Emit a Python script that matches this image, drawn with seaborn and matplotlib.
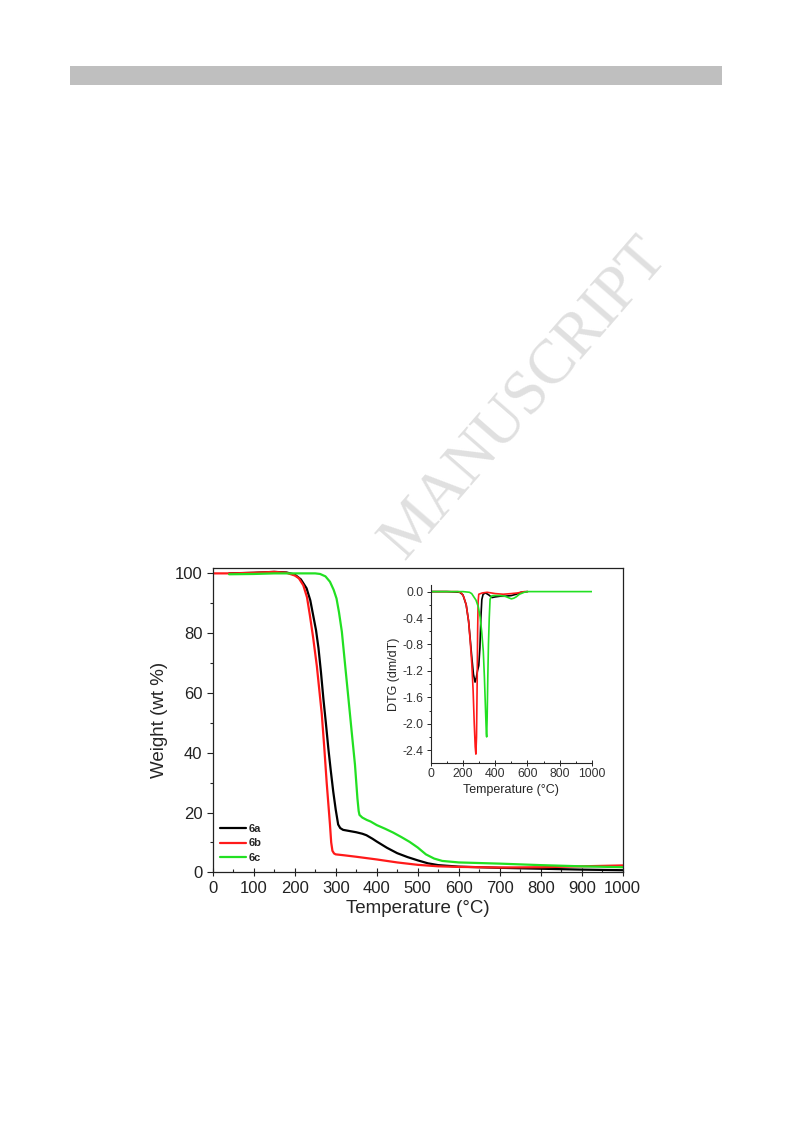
import pandas as pd
import matplotlib.pyplot as plt
import seaborn as sns
from matplotlib.patches import Rectangle
from matplotlib.ticker import MultipleLocator

# TGA curves (weight %)
temp_6a = [40, 100, 150, 180, 200, 215, 229, 238, 245, 252, 258, 264, 270, 276, 282, 288, 294, 300, 306, 311,
           318, 330, 350, 365, 375, 390, 400, 425, 450, 475, 500, 525, 550, 600, 700, 800, 900, 1000]
weight_6a = [100.0, 100.2, 100.5, 100.3, 99.6, 98.0, 95, 91, 86, 81, 75, 67, 58, 50, 41.5, 34, 27, 21, 16, 14.8,
             14.2, 13.9, 13.4, 12.9, 12.4, 11.2, 10.3, 8.2, 6.4, 5.1, 4.0, 3.0, 2.4, 1.9, 1.5, 1.2, 0.9, 0.7]

temp_6b = [0, 50, 100, 150, 180, 200, 210, 221, 230, 237, 245, 254, 260, 266, 272, 278, 282, 286, 289, 292,
           296, 300, 320, 350, 400, 450, 500, 550, 600, 700, 800, 900, 1000]
weight_6b = [100, 100, 100.2, 100.5, 100.2, 99.3, 98.4, 96, 92, 86, 78.5, 69, 61, 53, 42, 30, 23, 16, 10, 7.2,
             6.3, 6.0, 5.7, 5.2, 4.3, 3.3, 2.5, 2.0, 1.8, 1.6, 1.7, 2.0, 2.3]

temp_6c = [40, 100, 150, 200, 250, 262, 275, 286, 295, 302, 308, 315, 323, 331, 339, 347, 353, 356, 358, 365,
           376, 385, 400, 420, 440, 460, 480, 500, 520, 540, 560, 600, 700, 800, 900, 1000]
weight_6c = [99.7, 99.8, 100.0, 100.0, 100.0, 99.8, 99.0, 97.2, 94.5, 91.6, 87, 80.5, 69.3, 58.2, 47, 36, 24.7,
             20.5, 19.2, 18.3, 17.5, 17.0, 15.8, 14.6, 13.3, 11.8, 10.2, 8.3, 6.0, 4.6, 3.8, 3.3, 2.9, 2.4, 2.0, 1.7]

# DTG curves (inset)
dtg_temp_6a = [0, 100, 180, 200, 220, 235, 245, 255, 265, 275, 283, 290, 298, 305, 311, 317, 325, 340, 360,
               380, 400, 430, 460, 500, 530, 560, 600]
dtg_6a = [0, 0, -0.01, -0.05, -0.2, -0.45, -0.72, -1.0, -1.25, -1.37, -1.3, -1.2, -1.12, -0.85, -0.4, -0.12,
          -0.04, -0.02, -0.05, -0.09, -0.08, -0.07, -0.07, -0.06, -0.04, -0.01, 0]

dtg_temp_6b = [0, 100, 170, 190, 205, 220, 235, 245, 255, 263, 270, 276, 280, 284, 288, 291, 294, 298, 320,
               350, 400, 450, 500, 540, 580, 600]
dtg_6b = [0, 0, 0, -0.02, -0.08, -0.2, -0.45, -0.75, -1.1, -1.5, -2.0, -2.35, -2.46, -2.2, -1.4, -0.6, -0.15,
          -0.04, -0.02, -0.01, -0.03, -0.04, -0.03, -0.02, 0, 0]

dtg_temp_6c = [0, 100, 200, 240, 254, 281, 295, 306, 316, 326, 333, 340, 345, 347, 350, 354, 358, 363, 368,
               375, 385, 400, 430, 460, 480, 500, 515, 530, 550, 580, 600, 700, 800, 900, 1000]
dtg_6c = [0, 0, 0, -0.01, -0.03, -0.13, -0.23, -0.38, -0.6, -0.9, -1.3, -1.8, -2.15, -2.2, -1.9, -1.3, -0.8,
          -0.4, -0.12, -0.07, -0.06, -0.06, -0.06, -0.07, -0.09, -0.11, -0.1, -0.08, -0.04, -0.01, 0, 0, 0, 0, 0]

samples = ['6a', '6b', '6c']
colors = {'6a': '#000000', '6b': '#ff1a1a', '6c': '#22e022'}

tga = pd.concat([
    pd.DataFrame({'Temperature': temp_6a, 'Weight': weight_6a, 'Sample': '6a'}),
    pd.DataFrame({'Temperature': temp_6b, 'Weight': weight_6b, 'Sample': '6b'}),
    pd.DataFrame({'Temperature': temp_6c, 'Weight': weight_6c, 'Sample': '6c'}),
], ignore_index=True)

dtg = pd.concat([
    pd.DataFrame({'Temperature': dtg_temp_6a, 'DTG': dtg_6a, 'Sample': '6a'}),
    pd.DataFrame({'Temperature': dtg_temp_6b, 'DTG': dtg_6b, 'Sample': '6b'}),
    pd.DataFrame({'Temperature': dtg_temp_6c, 'DTG': dtg_6c, 'Sample': '6c'}),
], ignore_index=True)

sns.set_style('ticks')
plt.rcParams['font.family'] = ['Liberation Sans', 'DejaVu Sans']
plt.rcParams['axes.unicode_minus'] = False

fig = plt.figure(figsize=(7.93, 11.23), dpi=100)

# grey header bar of the page
fig.patches.append(Rectangle((70 / 793, 1 - 85 / 1123), 652 / 793, 19 / 1123,
                             transform=fig.transFigure, facecolor='#bfbfbf', edgecolor='none', zorder=0))

# watermark, partly hidden by the figure image
fig.text(0.662, 0.645, 'MANUSCRIPT', rotation=49, fontsize=45, color='#e0e0e0',
         family='Liberation Serif', ha='center', va='center', zorder=1)
fig.patches.append(Rectangle((150 / 793, 1 - 940 / 1123), 490 / 793, 377 / 1123,
                             transform=fig.transFigure, facecolor='white', edgecolor='none', zorder=2))

# main TGA plot
ax = fig.add_axes([212.7 / 793, 1 - 872.3 / 1123, 410 / 793, 304.6 / 1123])
ax.set_zorder(3)
sns.lineplot(data=tga, x='Temperature', y='Weight', hue='Sample', hue_order=samples,
             palette=colors, linewidth=1.6, sort=False, estimator=None, ax=ax)
ax.set_xlim(0, 1000)
ax.set_ylim(0, 101.9)
ax.xaxis.set_major_locator(MultipleLocator(100))
ax.xaxis.set_minor_locator(MultipleLocator(50))
ax.yaxis.set_major_locator(MultipleLocator(20))
ax.yaxis.set_minor_locator(MultipleLocator(10))
ax.tick_params(axis='both', which='major', labelsize=12, length=4, width=0.8, color='#222222',
               labelcolor='#222222')
ax.tick_params(axis='x', which='major', direction='inout', length=6)
ax.tick_params(axis='both', which='minor', length=2.5, width=0.8)
ax.tick_params(axis='x', which='minor', direction='in')
for s in ax.spines.values():
    s.set_linewidth(0.9)
    s.set_color('#222222')
ax.set_xlabel('Temperature (°C)', fontsize=13.5, labelpad=3)
ax.set_ylabel('Weight (wt %)', fontsize=13.5, labelpad=5)
leg = ax.legend(loc='upper left', bbox_to_anchor=(0.018, 0.158), frameon=False,
                prop={'weight': 'bold', 'size': 8}, handlelength=2.3, handletextpad=0.3,
                labelspacing=0.38, borderpad=0, borderaxespad=0)

# inset DTG plot
axin = fig.add_axes([430.7 / 793, 1 - 762.7 / 1123, 161.3 / 793, 177.7 / 1123])
axin.set_zorder(4)
sns.lineplot(data=dtg, x='Temperature', y='DTG', hue='Sample', hue_order=samples,
             palette=colors, linewidth=1.2, sort=False, estimator=None, legend=False, ax=axin)
axin.set_xlim(0, 1000)
axin.set_ylim(-2.59, 0.1)
axin.xaxis.set_major_locator(MultipleLocator(200))
axin.xaxis.set_minor_locator(MultipleLocator(100))
axin.yaxis.set_minor_locator(MultipleLocator(0.2))
axin.set_yticks([0.0, -0.4, -0.8, -1.2, -1.6, -2.0, -2.4])
axin.set_yticklabels(['0.0', '-0.4', '-0.8', '-1.2', '-1.6', '-2.0', '-2.4'])
axin.tick_params(axis='both', which='major', labelsize=8.8, length=3, width=0.7, pad=2,
                 labelcolor='#333333')
axin.tick_params(axis='x', which='major', direction='inout', length=4)
axin.tick_params(axis='both', which='minor', length=1.8, width=0.7)
axin.tick_params(axis='x', which='minor', direction='in')
sns.despine(ax=axin)
for s in ['left', 'bottom']:
    axin.spines[s].set_linewidth(0.8)
axin.set_xlabel('Temperature (°C)', fontsize=9, labelpad=3)
axin.set_ylabel('DTG (dm/dT)', fontsize=9, labelpad=2)

plt.savefig('out.png', dpi=100)
plt.close()
